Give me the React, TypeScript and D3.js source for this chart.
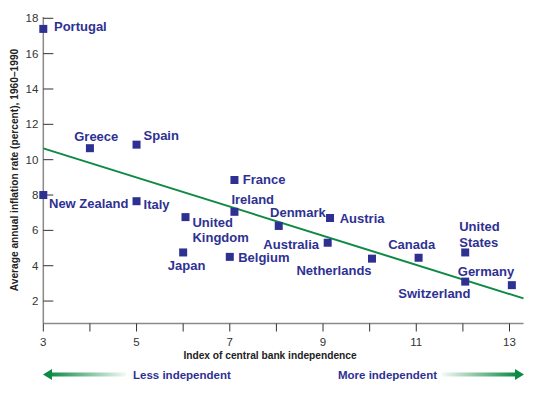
import { useEffect } from "react";
import * as d3 from "d3";

// Index of central bank independence vs average inflation 1960–1990
const countries = [
  "Portugal", "Greece", "Spain", "France", "Ireland", "New Zealand", "Italy",
  "United Kingdom", "Japan", "Belgium", "Denmark", "Austria", "Australia",
  "Netherlands", "Canada", "United States", "Switzerland", "Germany",
];
const independence = [3, 4, 5, 7.1, 7.1, 3, 5, 6.05, 6, 7, 8.05, 9.15, 9.1, 10.05, 11.05, 12.05, 12.05, 13.05];
const inflation = [17.4, 10.65, 10.85, 8.85, 7.05, 8.0, 7.65, 6.75, 4.75, 4.5, 6.25, 6.7, 5.3, 4.4, 4.45, 4.75, 3.1, 2.9];

// regression line end points [index, inflation]
const trendStart = [3, 10.64];
const trendEnd = [13.3, 2.15];

const xTicks = d3.range(3, 14, 1);
const xTickLabels = [3, 5, 7, 9, 11, 13];
const yTicks = [2, 4, 6, 8, 10, 12, 14, 16, 18];

// label placement relative to each point (layout only)
const labelLayout: Record<string, { dx: number; dy: number; anchor: string; lines?: string[] }> = {
  Portugal: { dx: 10.7, dy: 2.4, anchor: "start" },
  Greece: { dx: -15.7, dy: -6.7, anchor: "start" },
  Spain: { dx: 7, dy: -4.3, anchor: "start" },
  France: { dx: 8.4, dy: 4.3, anchor: "start" },
  Ireland: { dx: -3, dy: -7.7, anchor: "start" },
  "New Zealand": { dx: 5.7, dy: 13.3, anchor: "start" },
  Italy: { dx: 7, dy: 8, anchor: "start" },
  "United Kingdom": { dx: 7, dy: 10, anchor: "start", lines: ["United", "Kingdom"] },
  Japan: { dx: -15.3, dy: 17.7, anchor: "start" },
  Belgium: { dx: 8.4, dy: 5, anchor: "start" },
  Denmark: { dx: -8.7, dy: -9, anchor: "start" },
  Austria: { dx: 9.7, dy: 5, anchor: "start" },
  Australia: { dx: -8.7, dy: 6, anchor: "end" },
  Netherlands: { dx: -0.4, dy: 16, anchor: "end" },
  Canada: { dx: -6.9, dy: -8.6, anchor: "middle" },
  "United States": { dx: -6, dy: -21, anchor: "start", lines: ["United", "States"] },
  Switzerland: { dx: 5.3, dy: 16.3, anchor: "end" },
  Germany: { dx: 2.3, dy: -8.7, anchor: "end" },
};

const W = 535;
const H = 395;
const NAVY = "#2e3192";
const GREEN = "#0f8a45";
const FONT = "'Liberation Sans', Arial, Helvetica, sans-serif";

export default function App() {
  useEffect(() => {
    document.body.style.margin = "0";
  }, []);

  const x = d3.scaleLinear().domain([3, 13.3]).range([43.3, 523.5]);
  const y = d3.scaleLinear().domain([0.73, 18]).range([323.5, 18.3]);
  const line = d3.line<number[]>().x((d) => x(d[0])).y((d) => y(d[1]));
  const x0 = x(3);
  const yBase = y(0.73);

  return (
    <svg width={W} height={H} style={{ display: "block", fontFamily: FONT }}>
      <defs>
        <linearGradient id="gl" x1="0" x2="1" y1="0" y2="0">
          <stop offset="0" stopColor={GREEN} />
          <stop offset="1" stopColor={GREEN} stopOpacity="0.05" />
        </linearGradient>
        <linearGradient id="gr" x1="0" x2="1" y1="0" y2="0">
          <stop offset="0" stopColor={GREEN} stopOpacity="0.05" />
          <stop offset="1" stopColor={GREEN} />
        </linearGradient>
      </defs>

      {/* axes */}
      <line x1={x0} x2={x0} y1={17} y2={yBase} stroke="#8a8a8a" strokeWidth={1.5} />
      <line x1={x0} x2={x(13.3)} y1={yBase} y2={yBase} stroke="#8a8a8a" strokeWidth={1.5} />
      {yTicks.map((t) => (
        <g key={"y" + t}>
          <line x1={x0} x2={x0 + 10} y1={y(t)} y2={y(t)} stroke="#333" strokeWidth={1} />
          <text x={x0 - 5} y={y(t) + 4} textAnchor="end" fontSize={11.5} fill="#333">
            {t}
          </text>
        </g>
      ))}
      {xTicks.map((t) => (
        <line key={"x" + t} x1={x(t)} x2={x(t)} y1={yBase} y2={yBase + 8} stroke="#333" strokeWidth={1} />
      ))}
      {xTickLabels.map((t) => (
        <text key={"xl" + t} x={x(t)} y={345.5} textAnchor="middle" fontSize={11.5} fill="#333">
          {t}
        </text>
      ))}

      <text x={270} y={359} textAnchor="middle" fontSize={10.2} fontWeight="bold" fill="#222">
        Index of central bank independence
      </text>
      <text
        transform="translate(18,170) rotate(-90)"
        textAnchor="middle"
        fontSize={10.2}
        fontWeight="bold"
        fill="#222"
      >
        Average annual inflation rate (percent), 1960–1990
      </text>

      {/* trend line */}
      <path d={line([trendStart, trendEnd]) || ""} fill="none" stroke={GREEN} strokeWidth={2} />

      {/* points and labels */}
      {countries.map((c, i) => {
        const px = x(independence[i]);
        const py = y(inflation[i]);
        const l = labelLayout[c];
        const lines = l.lines || [c];
        return (
          <g key={c}>
            <rect x={px - 4} y={py - 4} width={8} height={8} fill={NAVY} />
            {lines.map((s, k) => (
              <text
                key={k}
                x={px + l.dx}
                y={py + l.dy + k * 15.3}
                textAnchor={l.anchor}
                fontSize={13}
                fontWeight="bold"
                fill={NAVY}
              >
                {s}
              </text>
            ))}
          </g>
        );
      })}

      {/* direction arrows */}
      <rect x={50} y={372.5} width={76} height={4} fill="url(#gl)" />
      <path d="M43,374.5 L52,369 L52,380 Z" fill={GREEN} />
      <text x={133} y={378.5} fontSize={11.5} fontWeight="bold" fill={NAVY}>
        Less independent
      </text>
      <rect x={442} y={372.5} width={74} height={4} fill="url(#gr)" />
      <path d="M524,374.5 L515,369 L515,380 Z" fill={GREEN} />
      <text x={437} y={378.5} textAnchor="end" fontSize={11.5} fontWeight="bold" fill={NAVY}>
        More independent
      </text>
    </svg>
  );
}
